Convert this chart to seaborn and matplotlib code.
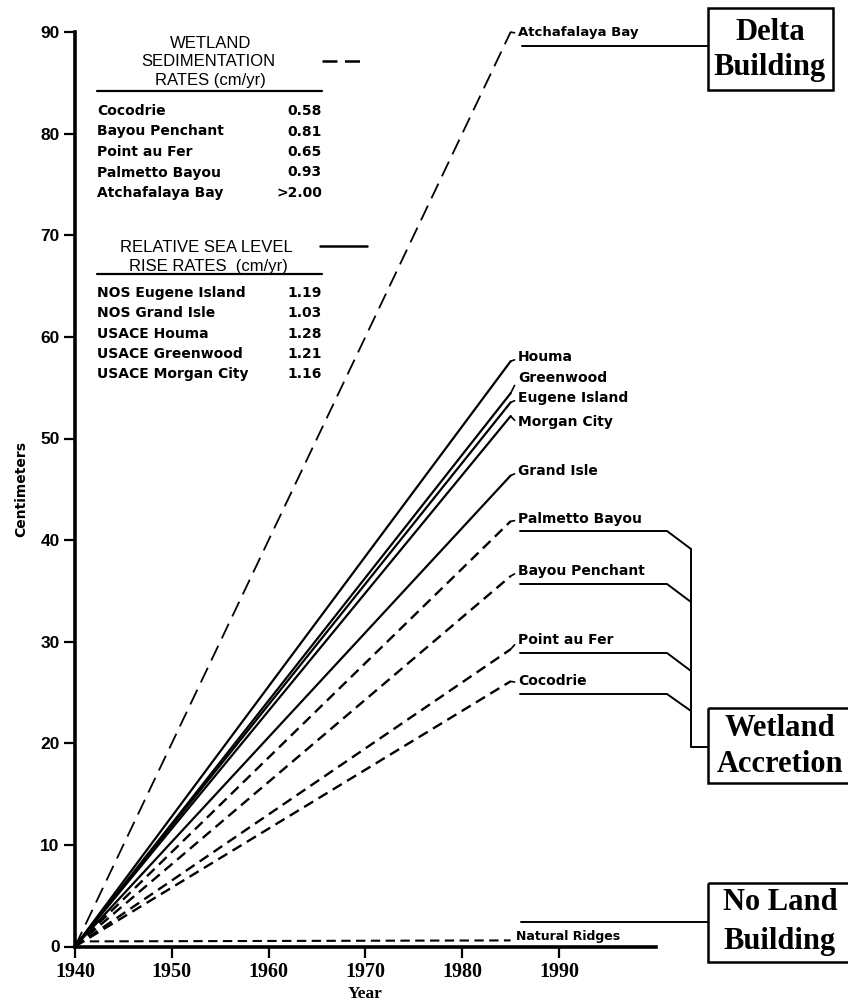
import matplotlib
matplotlib.use("Agg")
import matplotlib.pyplot as plt
import seaborn as sns
import pandas as pd
from matplotlib.lines import Line2D
from matplotlib.patches import Rectangle
from matplotlib.transforms import Affine2D

START_YEAR = 1940
END_YEAR = 1985

# Wetland sedimentation rates (cm/yr)
sed_sites = ["Cocodrie", "Bayou Penchant", "Point au Fer", "Palmetto Bayou", "Atchafalaya Bay"]
sed_rates = [0.58, 0.81, 0.65, 0.93, 2.00]
sed_rate_text = ["0.58", "0.81", "0.65", "0.93", ">2.00"]

# Relative sea level rise rates (cm/yr)
rsl_gauges = ["NOS Eugene Island", "NOS Grand Isle", "USACE Houma", "USACE Greenwood", "USACE Morgan City"]
rsl_sites = ["Eugene Island", "Grand Isle", "Houma", "Greenwood", "Morgan City"]
rsl_rates = [1.19, 1.03, 1.28, 1.21, 1.16]

# Natural ridges: essentially no vertical gain (cm)
ridge_level = [0.5, 0.6]

x_ticks = [1940, 1950, 1960, 1970, 1980, 1990]
y_ticks = [0, 10, 20, 30, 40, 50, 60, 70, 80, 90]

# label heights (cm) used to spread the end-of-line labels apart
label_y = {
    "Atchafalaya Bay": 90.0, "Houma": 58.0, "Greenwood": 56.0, "Eugene Island": 54.0,
    "Morgan City": 51.6, "Grand Isle": 46.8, "Palmetto Bayou": 42.1,
    "Bayou Penchant": 37.0, "Point au Fer": 30.2, "Cocodrie": 26.1,
}

sns.set_theme(style="white")
plt.rcParams["font.family"] = ["DejaVu Sans"]
plt.rcParams.update({"text.color": "black", "axes.labelcolor": "black",
                     "xtick.color": "black", "ytick.color": "black"})

W, H = 848, 1001
fig = plt.figure(figsize=(W / 100, H / 100), dpi=100)
ax = fig.add_axes([75 / W, 1 - 946.5 / H, 580.8 / W, 914.4 / H])

PX = Affine2D().scale(1 / W, -1 / H).translate(0, 1) + fig.transFigure


def ptext(x, y, s, **kw):
    fig.text(x, y, s, transform=PX, **kw)


def pline(xs, ys, **kw):
    kw.setdefault("color", "black")
    fig.add_artist(Line2D(xs, ys, transform=PX, **kw))


years = [START_YEAR, END_YEAR]
span = END_YEAR - START_YEAR

wet_dash = (0, (4.5, 2.6))
delta_dash = (0, (9, 4.5))

# sedimentation lines (dashed)
for site, rate in zip(sed_sites, sed_rates):
    df = pd.DataFrame({"Year": years, "cm": [0.0, rate * span]})
    if site == "Atchafalaya Bay":
        sns.lineplot(data=df, x="Year", y="cm", ax=ax, color="black", lw=1.3,
                     linestyle=delta_dash)
    else:
        sns.lineplot(data=df, x="Year", y="cm", ax=ax, color="black", lw=1.7,
                     linestyle=wet_dash)

# relative sea level rise lines (solid)
for site, rate in zip(rsl_sites, rsl_rates):
    df = pd.DataFrame({"Year": years, "cm": [0.0, rate * span]})
    sns.lineplot(data=df, x="Year", y="cm", ax=ax, color="black", lw=1.6)

# natural ridges
sns.lineplot(x=years, y=ridge_level, ax=ax, color="black", lw=1.5, linestyle=wet_dash)

# end-of-line labels
ends = dict(zip(sed_sites, [r * span for r in sed_rates]))
ends.update(dict(zip(rsl_sites, [r * span for r in rsl_rates])))
for name, end in ends.items():
    small = name == "Atchafalaya Bay"
    ax.annotate(name, xy=(END_YEAR, end), xytext=(END_YEAR + 0.75, label_y[name]),
                ha="left", va="center", fontsize=9.5 if small else 10,
                fontweight="semibold" if small else "bold", annotation_clip=False,
                arrowprops=dict(arrowstyle="-", color="black", lw=1.2,
                                shrinkA=0, shrinkB=0, relpos=(0, 0.4)))
ax.annotate("Natural Ridges", xy=(END_YEAR, ridge_level[-1]),
            xytext=(END_YEAR + 0.6, 1.0), ha="left", va="center",
            fontsize=9, fontweight="bold", annotation_clip=False)

ax.set_xlim(1940, 2000)
ax.set_ylim(0, 90)
ax.set_xticks(x_ticks)
ax.set_yticks(y_ticks)
ax.set_xticklabels([str(t) for t in x_ticks], fontfamily="Liberation Serif",
                   fontweight="bold", fontsize=14.5)
ax.set_yticklabels([str(t) for t in y_ticks], fontfamily="Liberation Sans",
                   fontweight="bold", fontsize=12.5)
ax.tick_params(axis="both", which="major", direction="out", length=8, width=1.6,
               color="black", bottom=True, left=True, pad=3, labelcolor="black")
for side in ("top", "right"):
    ax.spines[side].set_visible(False)
for side in ("left", "bottom"):
    ax.spines[side].set_linewidth(2.6)
    ax.spines[side].set_color("black")
ax.set_facecolor("white")
ax.set_xlabel("Year", fontfamily="Liberation Serif", fontweight="bold",
              fontsize=12.5, labelpad=3)
ax.set_ylabel("Centimeters", fontweight="bold", fontsize=10, labelpad=9)

# ---- rate tables ----
hdr = dict(ha="center", va="center", fontfamily="Liberation Sans", fontsize=12)
row = dict(va="center", fontsize=10, fontweight="bold")

ptext(211, 43, "WETLAND", **hdr)
ptext(208, 61, "SEDIMENTATION", **hdr)
ptext(210, 80, "RATES (cm/yr)", **hdr)
pline([97, 322], [91, 91], lw=1.6)
pline([322, 367], [61, 61], lw=1.8, linestyle=(0, (6, 3)))
for i, (site, txt) in enumerate(zip(sed_sites, sed_rate_text)):
    yy = 111 + i * 20.5
    ptext(97, yy, site, ha="left", **row)
    ptext(322, yy, txt, ha="right", **row)

ptext(206, 247, "RELATIVE SEA LEVEL", **hdr)
ptext(208, 266, "RISE RATES  (cm/yr)", **hdr)
pline([97, 322], [274, 274], lw=1.6)
pline([320, 367], [246, 246], lw=1.8)
for i, (g, r) in enumerate(zip(rsl_gauges, rsl_rates)):
    yy = 293 + i * 20.3
    ptext(97, yy, g, ha="left", **row)
    ptext(322, yy, f"{r:.2f}", ha="right", **row)

# ---- category boxes ----
box_font = dict(ha="center", va="center", fontfamily="Liberation Serif",
                fontsize=22, fontweight="bold")


def pbox(x0, y0, x1, y1):
    fig.add_artist(Rectangle((x0, y0), x1 - x0, y1 - y0, transform=PX,
                             fill=False, edgecolor="black", lw=1.8))


# Delta Building
pline([522, 708], [46, 46], lw=1.4)
pbox(708, 8, 833, 90)
ptext(770, 32, "Delta", **box_font)
ptext(770, 68, "Building", **box_font)

# Wetland Accretion bracket
for ya, yb in [(531, 549), (584, 602), (653, 671), (694, 711)]:
    pline([520, 667, 691], [ya, ya, yb], lw=1.4)
pline([691, 691, 708], [549, 747, 747], lw=1.4)
pbox(708, 708, 860, 783)
ptext(780, 728, "Wetland", **box_font)
ptext(780, 764, "Accretion", **box_font)

# No Land Building
pline([521, 708], [922, 922], lw=1.4)
pbox(708, 883, 860, 962)
ptext(780, 903, "No Land", **box_font)
ptext(780, 941, "Building", **box_font)

fig.savefig("out.png", dpi=100, facecolor="white")
